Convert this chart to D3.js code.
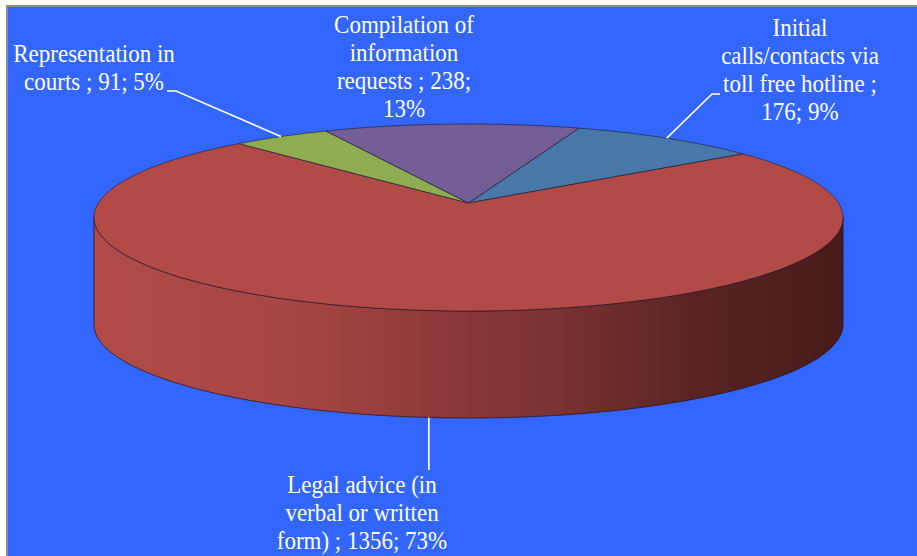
<!DOCTYPE html>
<html>
<head>
<meta charset="utf-8">
<script src="https://cdn.jsdelivr.net/npm/d3@7"></script>
<style>
  html, body { margin: 0; padding: 0; background: #ffffff; }
  svg { display: block; }
</style>
</head>
<body>
<svg id="chart" width="917" height="556"></svg>
<script>
// ---------------- DATA ----------------
const categories = [
  "Initial calls/contacts via toll free hotline",
  "Legal advice (in verbal or written form)",
  "Representation in courts",
  "Compilation of information requests"
];
const values = [176, 1356, 91, 238];
const labelLines = [
  ["Initial", "calls/contacts via", "toll free hotline ;", "{v}; {p}%"],
  ["Legal advice (in", "verbal or written", "form) ; {v}; {p}%"],
  ["Representation in", "courts ; {v}; {p}%"],
  ["Compilation of", "information", "requests ; {v};", "{p}%"]
];
const sliceColors = ["#4878A8", "#B24B48", "#8FAC50", "#755D95"];

// ---------------- LAYOUT ----------------
const W = 917, H = 556;
const cx = 468.5, cy = 203;      // projected centre of the pie top
const A = 370, B = 91.25, k = 0.155; // perspective projection
const depth = 107;
const startDeg = 20;

const svg = d3.select("#chart");

// frame
svg.append("rect").attr("x", 6).attr("y", 5).attr("width", W).attr("height", H).attr("fill", "#8c8c8c");
svg.append("rect").attr("x", 8).attr("y", 7).attr("width", W).attr("height", H).attr("fill", "#3366FF");

const defs = svg.append("defs");
const grad = defs.append("linearGradient").attr("id", "sideGrad")
  .attr("gradientUnits", "userSpaceOnUse")
  .attr("x1", 94).attr("y1", 0).attr("x2", 843).attr("y2", 0);
[[0, "#B04B48"], [0.27, "#A64644"], [0.45, "#8F3A3A"], [0.62, "#7A3232"], [0.81, "#582323"], [1, "#481C1C"]]
  .forEach(([o, c]) => grad.append("stop").attr("offset", o).attr("stop-color", c));

// projection of angle (clockwise from 12 o'clock) on the disc, r in [0,1]
function proj(theta, r = 1, h = 0) {
  const X = Math.sin(theta) * r, Z = -Math.cos(theta) * r;
  const w = 1 - k * Z;
  return [cx + A * X / w, cy + B * Z / w + h];
}

const pie = d3.pie().sort(null).value(d => d)
  .startAngle(startDeg * Math.PI / 180)
  .endAngle((startDeg + 360) * Math.PI / 180);
const arcs = pie(values);
const total = d3.sum(values);

function arcPts(a0, a1, h) {
  const n = Math.max(2, Math.ceil(Math.abs(a1 - a0) / 0.01));
  return d3.range(n + 1).map(i => proj(a0 + (a1 - a0) * i / n, 1, h));
}

const line = d3.line();

// visible side range (silhouette where cos(theta) = -k)
const thR = Math.acos(-k), thL = 2 * Math.PI - Math.acos(-k);
const TAU = 2 * Math.PI;

const sideG = svg.append("g");
arcs.forEach((a, i) => {
  // normalise to [0, 2PI) range segments
  let s = a.startAngle, e = a.endAngle;
  const segs = [];
  for (let off = -TAU; off <= TAU; off += TAU) {
    const lo = Math.max(s, thR + off), hi = Math.min(e, thL + off);
    if (hi > lo) segs.push([lo, hi]);
  }
  segs.forEach(([lo, hi]) => {
    const top = arcPts(lo, hi, 0);
    const bot = arcPts(hi, lo, depth);
    sideG.append("path")
      .attr("d", line(top.concat(bot)) + "Z")
      .attr("fill", i === 1 ? "url(#sideGrad)" : d3.color(sliceColors[i]).darker(0.8))
      .attr("stroke", "#2a0d0d").attr("stroke-opacity", 0.8).attr("stroke-width", 0.9)
      .attr("stroke-linejoin", "round");
  });
});

// top faces
const topG = svg.append("g");
arcs.forEach((a, i) => {
  const pts = [proj(0, 0)].concat(arcPts(a.startAngle, a.endAngle, 0));
  topG.append("path")
    .attr("d", line(pts) + "Z")
    .attr("fill", sliceColors[i])
    .attr("stroke", "#1e1a26").attr("stroke-opacity", 0.75).attr("stroke-width", 0.8)
    .attr("stroke-linejoin", "round");
});

// ---------------- LABELS ----------------
const labelPos = [
  { x: 800, y: 36 },   // initial calls
  { x: 362, y: 493 },  // legal advice
  { x: 94, y: 62 },    // representation
  { x: 404, y: 33 }    // compilation
];
const lineH = 28;
const leaderShapes = [
  { type: "elbow", pts: [[720, 94], [712, 94]] },
  { type: "vertical", to: 470 },
  { type: "elbow", pts: [[167, 91], [176, 91]] },
  null
];

const leaderG = svg.append("g").attr("stroke", "#ffffff").attr("stroke-width", 1.6).attr("fill", "none");
arcs.forEach((a, i) => {
  const ls = leaderShapes[i];
  if (!ls) return;
  const mid = (a.startAngle + a.endAngle) / 2;
  const onFront = Math.cos(mid) < -k;
  const anchor = proj(mid, 1, onFront ? depth : 0);
  let pts;
  if (ls.type === "elbow") pts = ls.pts.concat([anchor]);
  else pts = [anchor, [anchor[0], ls.to]];
  leaderG.append("path").attr("d", line(pts));
});

const labelG = svg.append("g")
  .attr("font-family", "'Liberation Serif', 'Times New Roman', serif")
  .attr("font-size", 25)
  .attr("fill", "#ffffff")
  .attr("text-anchor", "middle");

arcs.forEach((a, i) => {
  const p = Math.round(values[i] / total * 100);
  const g = labelG.append("g")
    .attr("transform", `translate(${labelPos[i].x},${labelPos[i].y}) scale(0.92,1)`);
  labelLines[i].forEach((t, j) => {
    g.append("text")
      .attr("x", 0).attr("y", j * lineH)
      .text(t.replace("{v}", values[i]).replace("{p}", p));
  });
});
</script>
</body>
</html>
